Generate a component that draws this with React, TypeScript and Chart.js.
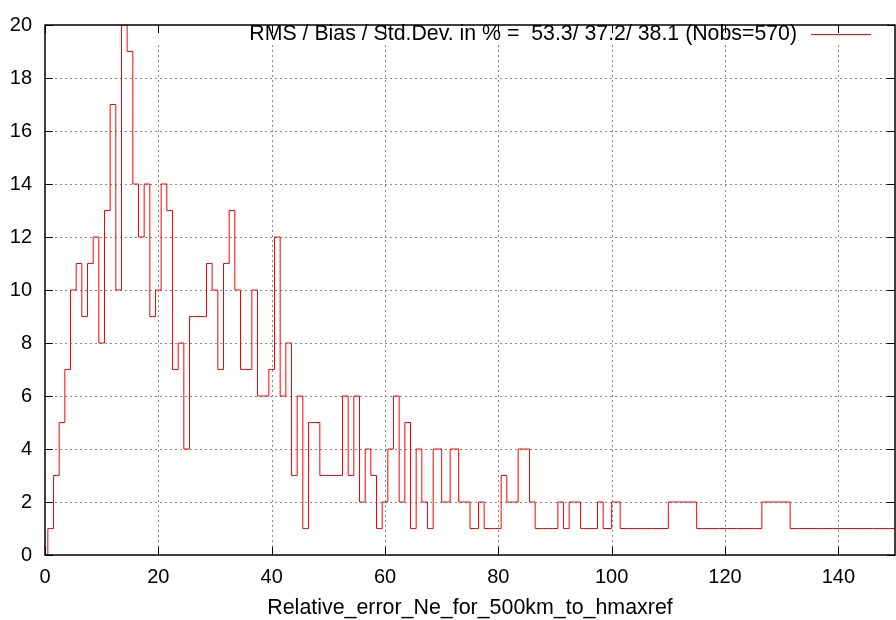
import React, { useEffect, useRef } from "react";
import { Chart, registerables } from "chart.js";

Chart.register(...registerables);

// Histogram bin centres (only the populated bins, plus bin 0) and their counts
const binCenters = [
  0, 1, 2, 3, 4, 5, 6, 7, 8, 9, 10, 11, 12, 13, 14, 15, 16, 17, 18, 19,
  20, 21, 22, 23, 24, 25, 26, 27, 28, 29, 30, 31, 32, 33, 34, 35, 36, 37, 38, 39,
  40, 41, 42, 43, 44, 45, 46, 47, 48, 49, 50, 51, 52, 53, 54, 55, 56, 57, 58, 59,
  60, 61, 62, 63, 64, 65, 66, 67, 68, 69, 71, 72, 74, 76, 77, 78, 79, 80, 81, 82,
  83, 84, 85, 86, 87, 88, 89, 90, 91, 92, 93, 94, 95, 96, 97, 98, 99, 101, 102, 104,
  106, 108, 112, 114, 116, 119, 122, 125, 128, 130, 133, 137, 141, 146, 152,
];
const counts = [
  0, 1, 3, 5, 7, 10, 11, 9, 11, 12, 8, 13, 17, 10, 20, 19, 14, 12, 14, 9,
  10, 14, 13, 7, 8, 4, 9, 9, 9, 11, 10, 7, 11, 13, 10, 7, 7, 10, 6, 6,
  7, 12, 6, 8, 3, 6, 1, 5, 5, 3, 3, 3, 3, 6, 3, 6, 2, 4, 3, 1,
  2, 4, 6, 2, 5, 1, 4, 2, 1, 4, 2, 4, 2, 1, 2, 1, 1, 1, 3, 2,
  2, 4, 4, 2, 1, 1, 1, 1, 2, 1, 2, 2, 1, 1, 1, 2, 1, 2, 1, 1,
  1, 1, 2, 2, 1, 1, 1, 1, 2, 2, 1, 1, 1, 1, 1,
];

const xTickValues = [0, 20, 40, 60, 80, 100, 120, 140];
const yTickValues = [0, 2, 4, 6, 8, 10, 12, 14, 16, 18, 20];
const xMin = 0;
const xMax = 150;
const yMin = 0;
const yMax = 20;

const xTitle = "Relative_error_Ne_for_500km_to_hmaxref";
const legendLabel = "RMS / Bias / Std.Dev. in % =  53.3/ 37.2/ 38.1 (Nobs=570)";

const FONT = '"Liberation Sans", Arial, Helvetica, sans-serif';
const LINE_COLOR = "#ff0000";
const GRID_COLOR = "#8a8a8a";
const TICK_LEN = 8;
const KEY_BOTTOM = 45;

const framePlugin = {
  id: "gnuplotFrame",
  beforeDatasetsDraw(chart: any) {
    const { ctx, chartArea: a, scales } = chart;
    const x = scales.x;
    const y = scales.y;
    ctx.save();
    ctx.strokeStyle = GRID_COLOR;
    ctx.lineWidth = 1;
    ctx.setLineDash([2, 3]);
    ctx.beginPath();
    for (const v of xTickValues) {
      if (v <= xMin || v >= xMax) continue;
      const px = Math.round(x.getPixelForValue(v)) + 0.5;
      ctx.moveTo(px, KEY_BOTTOM);
      ctx.lineTo(px, a.bottom);
    }
    for (const v of yTickValues) {
      if (v <= yMin || v >= yMax) continue;
      const py = Math.round(y.getPixelForValue(v)) + 0.5;
      ctx.moveTo(a.left, py);
      ctx.lineTo(a.right, py);
    }
    ctx.stroke();
    ctx.restore();
  },
  afterDatasetsDraw(chart: any) {
    const { ctx, chartArea: a, scales } = chart;
    const x = scales.x;
    const y = scales.y;
    ctx.save();
    ctx.setLineDash([]);
    ctx.strokeStyle = "#000";
    ctx.lineWidth = 1;
    ctx.beginPath();
    for (const v of xTickValues) {
      const px = Math.round(x.getPixelForValue(v)) + 0.5;
      ctx.moveTo(px, a.bottom);
      ctx.lineTo(px, a.bottom - TICK_LEN);
      ctx.moveTo(px, a.top);
      ctx.lineTo(px, a.top + TICK_LEN);
    }
    for (const v of yTickValues) {
      const py = Math.round(y.getPixelForValue(v)) + 0.5;
      ctx.moveTo(a.left, py);
      ctx.lineTo(a.left + TICK_LEN, py);
      ctx.moveTo(a.right, py);
      ctx.lineTo(a.right - TICK_LEN, py);
    }
    ctx.stroke();
    ctx.lineWidth = 1.5;
    ctx.strokeRect(a.left, a.top, a.right - a.left, a.bottom - a.top);

    // key
    ctx.font = `21.3px ${FONT}`;
    ctx.fillStyle = "#000";
    ctx.textAlign = "right";
    ctx.textBaseline = "middle";
    ctx.fillText(legendLabel, 797, 34);
    ctx.strokeStyle = LINE_COLOR;
    ctx.lineWidth = 1;
    ctx.beginPath();
    ctx.moveTo(811, 34.5);
    ctx.lineTo(871, 34.5);
    ctx.stroke();
    ctx.restore();
  },
};

export default function App() {
  const canvasRef = useRef<HTMLCanvasElement | null>(null);

  useEffect(() => {
    const canvas = canvasRef.current;
    if (!canvas) return;
    const points = binCenters.map((c, i) => ({ x: c, y: counts[i] }));
    const chart = new Chart(canvas, {
      type: "line",
      data: {
        datasets: [
          {
            data: points,
            borderColor: LINE_COLOR,
            borderWidth: 1,
            pointRadius: 0,
            stepped: "middle",
            fill: false,
          },
        ],
      },
      options: {
        responsive: false,
        animation: false,
        devicePixelRatio: 1,
        layout: { padding: { top: 14, right: 1, left: 0, bottom: 0 } },
        plugins: {
          legend: { display: false },
          tooltip: { enabled: false },
        },
        scales: {
          x: {
            type: "linear",
            min: xMin,
            max: xMax,
            grid: { display: false, drawTicks: false },
            border: { display: false },
            ticks: {
              color: "#000",
              font: { family: FONT, size: 20 },
              padding: 10,
              maxRotation: 0,
              autoSkip: false,
            },
            afterBuildTicks: (s: any) => {
              s.ticks = xTickValues.map((v) => ({ value: v }));
            },
            afterFit: (s: any) => {
              s.height = 65;
            },
            title: {
              display: true,
              text: xTitle,
              color: "#000",
              font: { family: FONT, size: 21.4, lineHeight: 1 },
              padding: { top: 0, bottom: 1 },
            },
          },
          y: {
            type: "linear",
            min: yMin,
            max: yMax,
            grid: { display: false, drawTicks: false },
            border: { display: false },
            ticks: {
              color: "#000",
              font: { family: FONT, size: 20 },
              padding: 13,
              autoSkip: false,
            },
            afterBuildTicks: (s: any) => {
              s.ticks = yTickValues.map((v) => ({ value: v }));
            },
            afterFit: (s: any) => {
              s.width = 45;
            },
          },
        },
      },
      plugins: [framePlugin],
    } as any);
    return () => chart.destroy();
  }, []);

  return (
    <div style={{ position: "absolute", left: 0, top: 0, width: 896, height: 620, background: "#fff" }}>
      <canvas ref={canvasRef} width={896} height={620} style={{ display: "block" }} />
    </div>
  );
}
